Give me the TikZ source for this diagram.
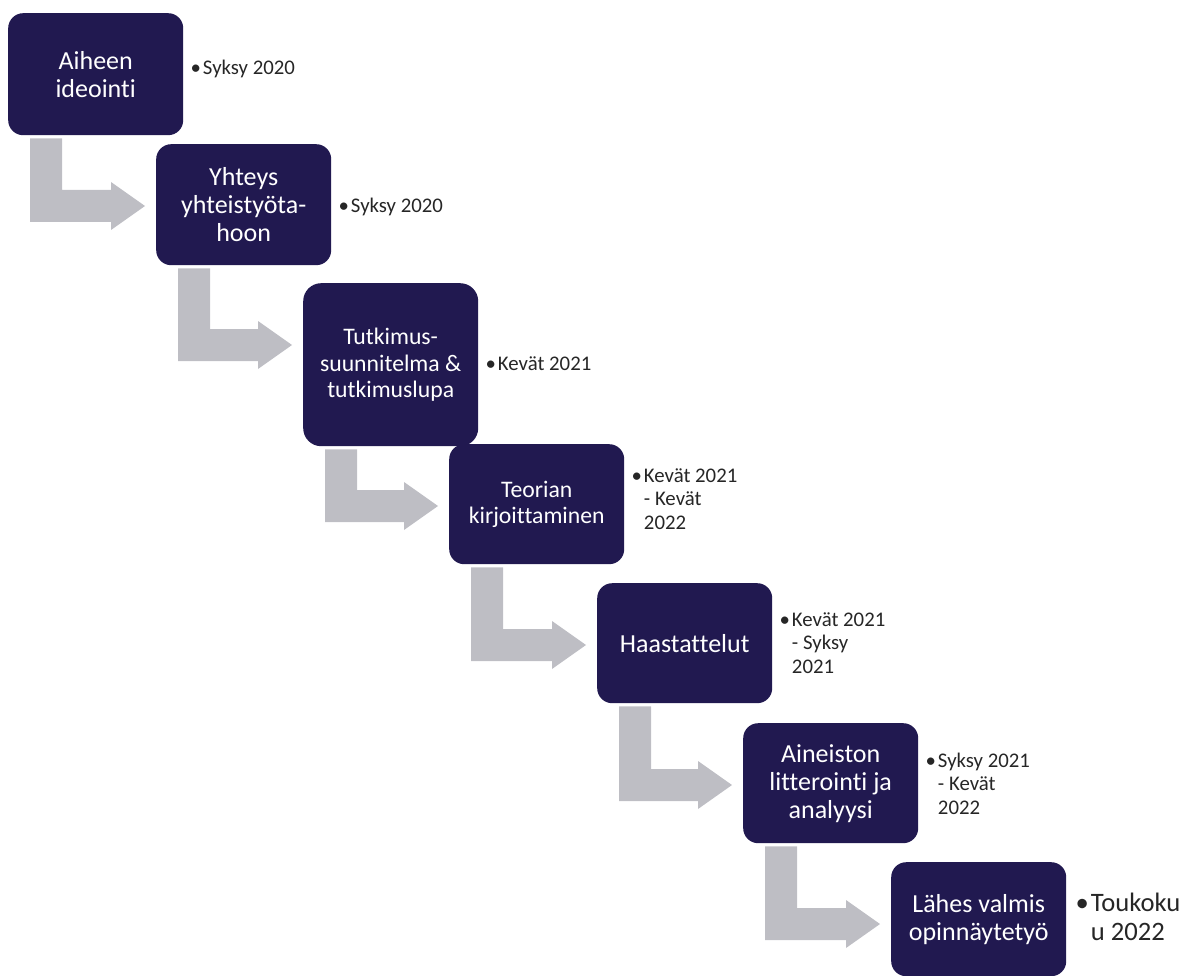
\documentclass[tikz,border=0pt]{standalone}
\usepackage{fontspec}
\setmainfont{Carlito}[Ligatures=NoCommon]
\usepackage{xcolor}
\usepackage{tikz}
\usetikzlibrary{calc}
\usetikzlibrary{positioning}
\definecolor{navy}{RGB}{33,25,80}
\definecolor{arrowgray}{RGB}{190,190,196}
\newcommand{\bigtxt}{\fontsize{26}{28}\selectfont}
\newcommand{\midtxt}{\fontsize{23.7}{26.5}\selectfont}
\newcommand{\smalltxt}{\fontsize{20.8}{23.3}\selectfont}
\newcommand{\lasttxt}{\fontsize{26.6}{29}\selectfont}
\newcommand{\when}[1]{\begin{tabular}{@{}l@{\hspace{2pt}}l@{}}\textbullet & #1\end{tabular}}
% bent block arrow from below one box to the left side of the next
\newcommand{\bent}[2]{%
  \fill[arrowgray] ($(#1.south west)+(22,3)$) coordinate (a)
    -- ++(32,0) |- ($(#2.north west)+(-45,46)$) -- ++(0,-8)
    -- ($(#2.north west)+(-11,62)$) -- ++(-34,24) -- ++(0,-8)
    -| (a) -- cycle;}

\begin{document}
\begin{tikzpicture}[x=1pt, y=-1pt]

                \useasboundingbox (0,0) rectangle (1182,976);

                % Styles for the boxes and the dates beside them
                \tikzset{stage/.style={fill=navy, text=white, rounded corners=15pt,
                                       align=center, minimum width=175pt,
                                       inner sep=2pt, anchor=north west, font=\bigtxt},
                         period/.style={inner sep=0pt, text=black!85, font=\smalltxt}}

                \begin{scope}
                    \node[stage, minimum height=122pt] (1) at (8,13)
                    {Aiheen\\ideointi};
                    \node[stage, minimum height=121pt] (2) at (156,144)
                    {Yhteys\\yhteistyöta-\\hoon};
                    \node[stage, minimum height=163pt, rounded corners=18pt, font=\midtxt] (3) at (303,283)
                    {Tutkimus-\\suunnitelma \&\\tutkimuslupa};
                    \node[stage, minimum height=120pt, font=\midtxt] (4) at (449,444)
                    {Teorian\\kirjoittaminen};
                    \node[stage, minimum height=120pt] (5) at (597,583)
                    {Haastattelut};
                    \node[stage, minimum height=120pt] (6) at (743,723)
                    {Aineiston\\litterointi ja\\analyysi};
                    \node[stage, minimum height=114pt] (7) at (891,862)
                    {Lähes valmis\\opinnäytetyö};
                \end{scope}

                \begin{scope}
                    \node[period, right=7pt of 1, yshift=4pt] (d1) {\when{Syksy 2020}};
                    \node[period, right=7pt of 2, yshift=-3pt] (d2) {\when{Syksy 2020}};
                    \node[period, right=7pt of 3, yshift=-1pt] (d3) {\when{Kevät 2021}};
                    \node[period, right=7pt of 4, yshift=3pt] (d4) {\when{Kevät 2021\\ & - Kevät\\ & 2022}};
                    \node[period, right=7pt of 5, yshift=-2pt] (d5) {\when{Kevät 2021\\ & - Syksy\\ & 2021}};
                    \node[period, right=7pt of 6, yshift=-3pt] (d6) {\when{Syksy 2021\\ & - Kevät\\ & 2022}};
                    \node[period, right=9pt of 7, yshift=-1pt, font=\lasttxt] (d7) {\when{Toukoku\\ & u 2022}};
                \end{scope}

                \bent{1}{2}
                \bent{2}{3}
                \bent{3}{4}
                \bent{4}{5}
                \bent{5}{6}
                \bent{6}{7}

\end{tikzpicture}
\end{document}
